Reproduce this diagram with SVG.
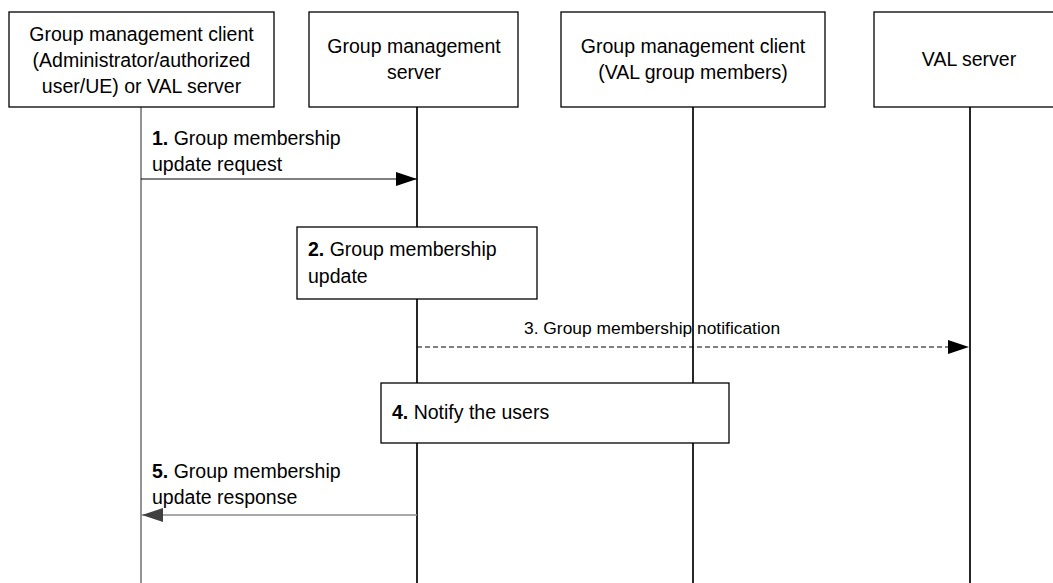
<svg xmlns="http://www.w3.org/2000/svg" width="1053" height="583" viewBox="0 0 1053 583">
<style>
  text { font-family: "Liberation Sans", Arial, sans-serif; font-size: 19.5px; fill: #000; }
  .c { text-anchor: middle; }
  .box { fill: #fff; stroke: #000; stroke-width: 1.3; }
  .life { stroke: #000; stroke-width: 1.7; fill: none; }
  .lifeg { stroke: #808080; stroke-width: 1.7; fill: none; }
  .msg { stroke: #000; stroke-width: 1.2; fill: none; }
  .dash { stroke: #000; stroke-width: 1.2; fill: none; stroke-dasharray: 5 3; }
  .gmsg { stroke: #8c8c8c; stroke-width: 1.6; fill: none; }
  .b { font-weight: bold; }
  .small { font-size: 17.4px; }
</style>
<defs>
  <marker id="ah" markerUnits="userSpaceOnUse" markerWidth="22" markerHeight="15" refX="21" refY="7" orient="auto">
    <path d="M0,0 L21,7 L0,14 z" fill="#000"/>
  </marker>
  <marker id="ahg" markerUnits="userSpaceOnUse" markerWidth="22" markerHeight="15" refX="21" refY="7" orient="auto">
    <path d="M0,0 L21,7 L0,14 z" fill="#404040"/>
  </marker>
</defs>
<rect width="1053" height="583" fill="#fff"/>

<g id="lifelines">
  <line class="lifeg" x1="141" y1="107" x2="141" y2="583"/>
  <line class="life" x1="417" y1="107" x2="417" y2="583"/>
  <line class="life" x1="693" y1="107" x2="693" y2="583"/>
  <line class="life" x1="970" y1="107" x2="970" y2="583"/>
</g>

<g id="connectors">
  <g id="msg1">
    <line class="msg" x1="141" y1="179" x2="417" y2="179" marker-end="url(#ah)"/>
    <text x="152" y="145"><tspan class="b">1.</tspan> Group membership</text>
    <text x="152" y="171">update request</text>
  </g>
  <g id="msg3">
    <line class="dash" x1="417" y1="347" x2="969" y2="347" marker-end="url(#ah)"/>
    <text class="small" x="524" y="334">3. Group membership notification</text>
  </g>
  <g id="msg5">
    <line class="gmsg" x1="417" y1="515" x2="142" y2="515" marker-end="url(#ahg)"/>
    <text x="152" y="478"><tspan class="b">5.</tspan> Group membership</text>
    <text x="152" y="504">update response</text>
  </g>
</g>

<g id="node-client-admin">
  <rect class="box" x="9" y="12" width="265" height="95"/>
  <text class="c" x="141.5" y="41">Group management client</text>
  <text class="c" x="141.5" y="67">(Administrator/authorized</text>
  <text class="c" x="141.5" y="93">user/UE) or VAL server</text>
</g>
<g id="node-gm-server">
  <rect class="box" x="309" y="12" width="209" height="95"/>
  <text class="c" x="414" y="53">Group management</text>
  <text class="c" x="414" y="79">server</text>
</g>
<g id="node-client-members">
  <rect class="box" x="561" y="12" width="264" height="95"/>
  <text class="c" x="693" y="53">Group management client</text>
  <text class="c" x="693" y="79">(VAL group members)</text>
</g>
<g id="node-val-server">
  <rect class="box" x="874" y="12" width="192" height="95"/>
  <text class="c" x="969" y="66">VAL server</text>
</g>

<g id="step2">
  <rect class="box" x="297" y="227" width="240" height="72"/>
  <text x="308" y="256"><tspan class="b">2.</tspan> Group membership</text>
  <text x="308" y="283">update</text>
</g>
<g id="step4">
  <rect class="box" x="381" y="383" width="348" height="60"/>
  <text x="392" y="419"><tspan class="b">4.</tspan> Notify the users</text>
</g>
</svg>
